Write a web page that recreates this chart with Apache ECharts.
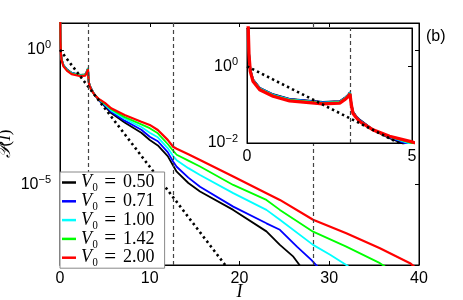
<!DOCTYPE html>
<html><head><meta charset="utf-8">
<script src="https://cdn.jsdelivr.net/npm/echarts@6/dist/echarts.min.js"></script>
<style>html,body{margin:0;padding:0;background:#fff}#c{width:463px;height:300px}</style>
</head><body><div id="c"></div>
<script>
// ---- data ----
const v0Labels = ['0.50', '0.71', '1.00', '1.42', '2.00'];
const v0Colors = ['#000000', '#0000ff', '#00ffff', '#00ff00', '#ff0000'];

const I_050 = [0.02,0.06,0.1,0.18,0.385,0.79,1.29,2.3,2.81,2.96,3.06,3.12,3.14,3.16,3.21,3.3,3.42,3.82,4.32,5.0,5.7,7.2,9.06,10.0,10.9,12.0,12.6,13.0,14.3,15.6,19.3,23.0,24.5,26.0,26.9];
const P_050 = [30,2.2,0.83,0.46,0.275,0.186,0.141,0.118,0.123,0.15,0.178,0.21,0.22,0.11,0.066,0.051,0.04,0.022,0.0135,0.0079,4.47e-3,2.0e-3,8.3e-4,4.47e-4,2.8e-4,1.12e-4,5.0e-5,2.95e-5,1.12e-5,5.4e-6,1.12e-6,1.78e-7,5.6e-8,2.04e-8,8e-9];

const I_071 = [0.02,0.06,0.1,0.18,0.385,0.79,1.29,2.3,2.81,2.96,3.06,3.12,3.14,3.16,3.21,3.3,3.42,3.82,4.32,5.0,5.7,7.2,9.06,10.0,10.9,12.0,12.6,13.0,14.3,15.6,19.3,23.0,24.5,26.4,28.0,28.8];
const P_071 = [30,2.2,0.81,0.45,0.27,0.183,0.139,0.116,0.121,0.148,0.176,0.209,0.22,0.108,0.065,0.05,0.039,0.022,0.014,0.0085,5.01e-3,2.34e-3,1.07e-3,5.9e-4,4.0e-4,1.58e-4,7.1e-5,4.5e-5,1.78e-5,8.1e-6,1.48e-6,3.55e-7,2.04e-7,4.8e-8,1.55e-8,8e-9];

const I_100 = [0.02,0.06,0.1,0.18,0.385,0.79,1.29,2.3,2.81,2.96,3.06,3.12,3.14,3.16,3.21,3.3,3.42,3.82,4.32,5.0,5.7,7.2,9.06,10.0,10.9,12.0,12.6,13.0,14.3,15.6,19.3,23.0,24.5,28.2,30.1,31.9,32.3];
const P_100 = [30,2.1,0.8,0.443,0.265,0.179,0.136,0.113,0.119,0.146,0.173,0.205,0.216,0.106,0.064,0.049,0.038,0.022,0.0145,0.0093,5.62e-3,2.75e-3,1.35e-3,8.3e-4,5.6e-4,2.24e-4,1.12e-4,7.9e-5,4.0e-5,2.24e-5,4.7e-6,1.12e-6,4.8e-7,5.6e-8,2.4e-8,1.0e-8,8e-9];

const I_142 = [0.02,0.06,0.1,0.18,0.385,0.79,1.29,2.3,2.81,2.96,3.06,3.12,3.14,3.16,3.21,3.3,3.42,3.82,4.32,5.0,5.7,7.2,9.06,10.0,10.9,12.0,12.6,13.0,14.3,15.6,19.3,23.0,24.5,28.2,31.9,35.65,36.4];
const P_142 = [30,2.05,0.78,0.43,0.257,0.174,0.132,0.11,0.116,0.142,0.168,0.2,0.21,0.104,0.062,0.048,0.037,0.022,0.0148,0.01,6.17e-3,3.16e-3,1.7e-3,1.23e-3,7.9e-4,3.16e-4,1.78e-4,1.26e-4,7.6e-5,4.6e-5,9.5e-6,2.63e-6,1.12e-6,1.74e-7,4.8e-8,1.17e-8,8e-9];

const I_200 = [0.02,0.06,0.1,0.18,0.385,0.79,1.29,2.3,2.81,2.96,3.06,3.12,3.14,3.16,3.21,3.3,3.42,3.82,4.32,5.0,5.7,7.2,9.06,10.0,10.9,12.0,12.6,13.0,14.3,15.6,19.3,23.0,24.5,28.2,31.9,35.65,39.0,39.6];
const P_200 = [30,2.0,0.74,0.41,0.245,0.166,0.126,0.105,0.11,0.135,0.16,0.19,0.2,0.1,0.06,0.047,0.036,0.022,0.015,0.0107,6.76e-3,3.8e-3,2.14e-3,1.62e-3,1.05e-3,4.5e-4,2.5e-4,2.1e-4,1.32e-4,8.1e-5,1.95e-5,4.7e-6,2.63e-6,4.8e-7,1.51e-7,4.2e-8,1.17e-8,8e-9];

// dotted reference line (straight on the log plot)
const I_ref = [0, 4.6, 9.2, 13.8, 18.4];
const P_ref = [1, 1e-2, 1e-4, 1e-6, 1e-8];

// vertical dashed lines
const dashedI = [3.14, 12.57, 28.27];
const insetDashedI = [3.14];

// tick positions
const mainYTicks = [1e-5, 1];
const insetYTicks = [1e-2, 1];

// ---- chart ----
const curvesI = [I_050, I_071, I_100, I_142, I_200];
const curvesP = [P_050, P_071, P_100, P_142, P_200];
const SANS = '"Liberation Sans", Arial, Helvetica, sans-serif';
const SERIF = '"Liberation Serif", "DejaVu Serif", "Times New Roman", serif';
const zip = (a, b) => a.map((x, i) => [x, b[i]]);

function powLabel(v) {
  const e = Math.round(Math.log10(v));
  return '{b|10}{e|' + (e < 0 ? '\u2212' + (-e) : String(e)) + '}';
}
const powRich = {
  b: { fontSize: 16, fontFamily: SANS, color: '#000' },
  e: { fontSize: 11, fontFamily: SANS, color: '#000', padding: [0, 0, 9, 0] }
};

function xAxisDef(grid, max, interval, pos, labels, z) {
  return {
    gridIndex: grid, type: 'value', min: 0, max: max, interval: interval, position: pos, z: z,
    axisLine: { show: true, onZero: false, lineStyle: { color: '#000', width: 1 } },
    axisTick: { show: true, inside: true, length: 4, lineStyle: { color: '#000' } },
    axisLabel: { show: labels, fontSize: 16, fontFamily: SANS, color: '#000', margin: 6, showMinLabel: true, showMaxLabel: true },
    splitLine: { show: false }
  };
}
function yAxisDef(grid, min, max, ticks, pos, labels, z) {
  return {
    gridIndex: grid, type: 'log', logBase: 10, min: min, max: max, position: pos, z: z,
    axisLine: { show: true, onZero: false, lineStyle: { color: '#000', width: 1 } },
    axisTick: { show: true, inside: true, length: 4, customValues: ticks, lineStyle: { color: '#000' } },
    axisLabel: { show: labels, customValues: ticks, formatter: powLabel, rich: powRich, margin: 9 },
    splitLine: { show: false }, minorTick: { show: false }
  };
}

const xAxes = [
  xAxisDef(0, 40, 10, 'bottom', true, 0),
  xAxisDef(0, 40, 10, 'top', false, 0),
  xAxisDef(1, 5, 5, 'bottom', true, 11),
  xAxisDef(1, 5, 5, 'top', false, 11)
];
Object.assign(xAxes[0], {
  name: 'I', nameLocation: 'middle', nameGap: 18, nameMoveOverlap: false,
  nameTextStyle: { fontFamily: SERIF, fontStyle: 'italic', fontSize: 18, color: '#000' }
});
const yAxes = [
  yAxisDef(0, 1e-8, 10, mainYTicks, 'left', true, 0),
  yAxisDef(0, 1e-8, 10, mainYTicks, 'right', false, 0),
  yAxisDef(1, 1e-2, 10, insetYTicks, 'left', true, 11),
  yAxisDef(1, 1e-2, 10, [1], 'right', false, 11)
];
Object.assign(yAxes[0], {
  name: '{p|\uD835\uDCAB}{n|(}{i|I}{n|)}', nameLocation: 'middle', nameGap: 46, nameRotate: 90,
  nameMoveOverlap: false,
  nameTextStyle: {
    rich: {
      p: { fontFamily: '"DejaVu Serif", serif', fontStyle: 'italic', fontSize: 17, color: '#000' },
      n: { fontFamily: SERIF, fontSize: 17, color: '#000' },
      i: { fontFamily: SERIF, fontStyle: 'italic', fontSize: 17, color: '#000' }
    }
  }
});

const series = [];
curvesI.forEach((xs, k) => {
  series.push({
    name: v0Labels[k], type: 'line', xAxisIndex: 0, yAxisIndex: 0, z: 2,
    data: zip(xs, curvesP[k]), showSymbol: false, symbol: 'none', clip: true,
    itemStyle: { color: v0Colors[k] },
    lineStyle: { color: v0Colors[k], width: k === 4 ? 2.2 : 1.8 }
  });
});
series.push({
  name: 'ref', type: 'line', xAxisIndex: 0, yAxisIndex: 0, z: 3,
  data: zip(I_ref, P_ref), showSymbol: false, symbol: 'none', clip: true,
  lineStyle: { color: '#000', width: 2.6, type: [2.4, 3.2] },
  markLine: {
    silent: true, symbol: 'none', z: 5, animation: false,
    label: { show: false },
    lineStyle: { color: '#444', width: 1.2, type: [4, 3] },
    data: dashedI.map(x => ({ xAxis: x }))
  }
});
curvesI.forEach((xs, k) => {
  series.push({
    name: v0Labels[k], type: 'line', xAxisIndex: 2, yAxisIndex: 2, z: 12,
    data: zip(xs, curvesP[k]), showSymbol: false, symbol: 'none', clip: true,
    itemStyle: { color: v0Colors[k] },
    lineStyle: { color: v0Colors[k], width: k === 4 ? 3.3 : 2 }
  });
});
series.push({
  name: 'ref', type: 'line', xAxisIndex: 2, yAxisIndex: 2, z: 13,
  data: zip(I_ref, P_ref), showSymbol: false, symbol: 'none', clip: true,
  lineStyle: { color: '#000', width: 2.6, type: [2.4, 3.2] },
  markLine: {
    silent: true, symbol: 'none', z: 12, animation: false,
    label: { show: false },
    lineStyle: { color: '#444', width: 1.2, type: [4, 3] },
    data: insetDashedI.map(x => ({ xAxis: x }))
  }
});

const chart = echarts.init(document.getElementById('c'), null, { renderer: 'canvas' });
chart.setOption({
  animation: false,
  backgroundColor: '#fff',
  title: { text: '(b)', left: 426, top: 29, padding: 0,
    textStyle: { fontSize: 16, fontWeight: 'normal', fontFamily: SANS, color: '#000' } },
  grid: [
    { left: 60, top: 23, width: 359, height: 242, show: true, backgroundColor: 'transparent', borderColor: '#000', borderWidth: 1, containLabel: false, outerBoundsMode: 'none' },
    { left: 247, top: 28, width: 165, height: 115, show: true, backgroundColor: '#fff', borderColor: '#000', borderWidth: 1, z: 10, containLabel: false, outerBoundsMode: 'none' }
  ],
  legend: {
    data: v0Labels, orient: 'vertical', left: 60, top: 172, z: 20,
    icon: 'rect', itemWidth: 14, itemHeight: 2.5, itemGap: -2.2,
    padding: [0, 10, 0, 2], backgroundColor: '#fff', borderColor: '#888', borderWidth: 1,
    formatter: name => '{v|V}{s|\u2080}{q|=}{t|' + name + '}',
    textStyle: {
      lineHeight: 16.4,
      rich: {
        v: { fontFamily: SERIF, fontStyle: 'italic', fontSize: 18, color: '#000', lineHeight: 16.4 },
        s: { fontFamily: SERIF, fontSize: 18, color: '#000', lineHeight: 16.4 },
        q: { fontFamily: SERIF, fontSize: 21, color: '#000', padding: [0, 7, 0, 6], lineHeight: 16.4 },
        t: { fontFamily: SERIF, fontSize: 18, color: '#000', lineHeight: 16.4 }
      }
    }
  },
  xAxis: xAxes,
  yAxis: yAxes,
  series: series
});
</script></body></html>
